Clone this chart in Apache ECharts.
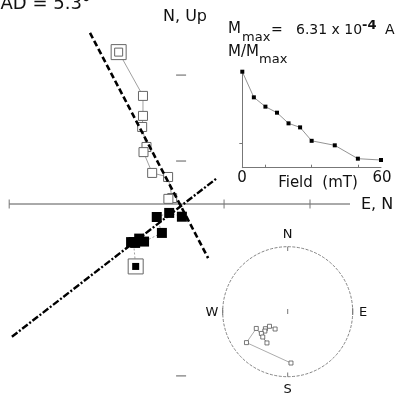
<!DOCTYPE html>
<html>
<head>
<meta charset="utf-8">
<script src="https://cdn.jsdelivr.net/npm/echarts@6/dist/echarts.min.js"></script>
<style>
  html, body { margin: 0; padding: 0; background: #fff; }
  #main { width: 398px; height: 399px; }
</style>
</head>
<body>
<div id="main"></div>
<script>
// demagnetisation steps (mT) and vector components (x 10^-4 A)
var steps = [0, 5, 10, 15, 20, 25, 30, 40, 50, 60];
var east = [-1.68, -1.76, -1.85, -1.70, -1.55, -1.37, -0.71, -0.90, -0.44, 0.03];
var north = [-2.31, -1.41, -1.41, -1.44, -1.28, -1.39, -1.07, -0.48, -0.33, -0.47];
var up = [5.62, 4.00, 3.26, 2.85, 2.11, 1.92, 1.15, 1.00, 0.22, 0.19];
var mNorm = [1, 0.733, 0.636, 0.573, 0.462, 0.42, 0.28, 0.233, 0.094, 0.08];

// PCA fit lines (end points)
var vertFit = [[-3.37, 6.33], [1.0, -2.0]];   // N vs Up
var horizFit = [[-6.26, -4.91], [1.32, 0.95]]; // E vs N

// main axis extent and tick marks
var axisEnds = [-6.36, 6.25];
var axisTicks = [-6.36, 1.59, 4.77];
var insetXTicks = [10, 30, 50];
var insetYTicks = [0.25];

var GREY = '#777';
var FONT = '"DejaVu Sans", sans-serif';

var horiz = east.map(function (e, i) { return [e, north[i]]; });
var vert = north.map(function (n, i) { return [n, up[i]]; });

// equal-area projection of each step direction
var stereo = east.map(function (e, i) {
  var n = north[i], h = Math.sqrt(e * e + n * n);
  var dec = Math.atan2(e, n);
  var inc = Math.atan2(Math.abs(up[i]), h);
  var r = Math.SQRT2 * Math.sin(Math.PI / 4 - inc / 2);
  return [r * Math.sin(dec), r * Math.cos(dec)];
});

var chart = echarts.init(document.getElementById('main'));

function hiddenAxis(idx, min, max) {
  return { gridIndex: idx, type: 'value', min: min, max: max, show: false };
}

function txt(text, x, y, size, align, va, weight) {
  return {
    type: 'text', z: 100,
    style: {
      text: text, x: x, y: y, fill: '#111',
      font: (weight || 'normal') + ' ' + size + 'px ' + FONT,
      textAlign: align || 'left', textVerticalAlign: va || 'middle'
    }
  };
}

chart.setOption({
  animation: false,
  backgroundColor: '#fff',
  grid: [
    { left: 0, top: 1.3, width: 397.3, height: 397.3 },
    { left: 242.3, top: 71.7, width: 138.7, height: 96 },
    { left: 222.7, top: 246.7, width: 130, height: 130 }
  ],
  xAxis: [
    hiddenAxis(0, -6.7, 8.0),
    {
      gridIndex: 1, type: 'value', min: 0, max: 60,
      splitLine: { show: false },
      axisLabel: { show: false },
      axisLine: { lineStyle: { color: GREY, width: 1 } },
      axisTick: { inside: true, length: 3, customValues: insetXTicks, lineStyle: { color: GREY } }
    },
    hiddenAxis(2, -1, 1)
  ],
  yAxis: [
    hiddenAxis(0, -7.2, 7.5),
    {
      gridIndex: 1, type: 'value', min: 0, max: 1,
      splitLine: { show: false },
      axisLabel: { show: false },
      axisLine: { lineStyle: { color: GREY, width: 1 } },
      axisTick: { inside: false, length: 3, customValues: insetYTicks, lineStyle: { color: GREY } }
    },
    hiddenAxis(2, -1, 1)
  ],
  graphic: [
    txt('MAD = 5.3°', -15, 13, 18, 'left', 'bottom'),
    txt('N, Up', 163, 17, 16),
    txt('E, N', 361, 205, 16),
    txt('M', 228, 37, 15, 'left', 'bottom'),
    txt('max', 242, 44, 13, 'left', 'bottom'),
    txt('=', 271, 37, 14, 'left', 'bottom'),
    txt('6.31 x 10', 296, 37, 14, 'left', 'bottom'),
    txt('-4', 362, 32, 13, 'left', 'bottom', 'bold'),
    txt('A', 385, 37, 14, 'left', 'bottom'),
    txt('M/M', 228, 60, 15, 'left', 'bottom'),
    txt('max', 259, 66, 13, 'left', 'bottom'),
    txt('0', 242, 178, 15, 'center'),
    txt('Field  (mT)', 318, 183, 15, 'center'),
    txt('60', 382, 178, 15, 'center'),
    txt('N', 287.7, 235, 13, 'center'),
    txt('S', 287.7, 390, 13, 'center'),
    txt('W', 212, 313, 13, 'center'),
    txt('E', 363, 313, 13, 'center'),
    {
      type: 'circle', z: 1,
      shape: { cx: 287.7, cy: 311.7, r: 65 },
      style: { fill: 'none', stroke: '#666', lineWidth: 0.8, lineDash: [3, 1.5] }
    },
    { type: 'line', z: 1, shape: { x1: 287.7, y1: 246.7, x2: 287.7, y2: 251 }, style: { stroke: GREY } },
    { type: 'line', z: 1, shape: { x1: 287.7, y1: 372.5, x2: 287.7, y2: 376.7 }, style: { stroke: GREY } },
    { type: 'line', z: 1, shape: { x1: 222.7, y1: 308, x2: 222.7, y2: 315 }, style: { stroke: GREY } },
    { type: 'line', z: 1, shape: { x1: 352.7, y1: 308, x2: 352.7, y2: 315 }, style: { stroke: GREY } },
    { type: 'line', z: 1, shape: { x1: 287.7, y1: 309, x2: 287.7, y2: 314 }, style: { stroke: GREY } }
  ],
  series: [
    // horizontal axis line and tick marks
    {
      type: 'line', xAxisIndex: 0, yAxisIndex: 0, symbol: 'none', silent: true, clip: false,
      data: axisEnds.map(function (x) { return [x, 0]; }),
      lineStyle: { color: '#555', width: 1 }, z: 1
    },
    {
      type: 'scatter', xAxisIndex: 0, yAxisIndex: 0, symbol: 'rect', symbolSize: [1, 9], clip: false,
      data: axisTicks.map(function (x) { return [x, 0]; }),
      itemStyle: { color: GREY, opacity: 1 }, z: 1
    },
    {
      type: 'scatter', xAxisIndex: 0, yAxisIndex: 0, symbol: 'rect', symbolSize: [10, 1.2], clip: false,
      data: axisTicks.map(function (y) { return [0, y]; }),
      itemStyle: { color: GREY, opacity: 1 }, z: 1
    },
    // connecting paths
    {
      type: 'line', xAxisIndex: 0, yAxisIndex: 0, symbol: 'none', clip: false,
      data: vert, lineStyle: { color: '#888', width: 0.8 }, z: 2
    },
    {
      type: 'line', xAxisIndex: 0, yAxisIndex: 0, symbol: 'none', clip: false,
      data: horiz, lineStyle: { color: '#888', width: 0.8, type: [2, 2] }, z: 2
    },
    // NRM outer frames
    {
      type: 'scatter', xAxisIndex: 0, yAxisIndex: 0, symbol: 'rect', symbolSize: 15, clip: false,
      data: [vert[0], horiz[0]],
      itemStyle: { color: '#fff', borderColor: '#666', borderWidth: 1, opacity: 1 }, z: 3
    },
    // vertical projection (open)
    {
      type: 'scatter', xAxisIndex: 0, yAxisIndex: 0, symbol: 'rect', clip: false,
      symbolSize: function (v, p) { return p.dataIndex === 0 ? 8 : 9; },
      data: vert,
      itemStyle: { color: '#fff', borderColor: '#666', borderWidth: 1, opacity: 1 }, z: 4
    },
    // horizontal projection (filled)
    {
      type: 'scatter', xAxisIndex: 0, yAxisIndex: 0, symbol: 'rect', clip: false,
      symbolSize: function (v, p) { return p.dataIndex === 0 ? 7 : 10; },
      data: horiz,
      itemStyle: { color: '#000', opacity: 1 }, z: 4
    },
    // fit lines
    {
      type: 'line', xAxisIndex: 0, yAxisIndex: 0, symbol: 'none', clip: false,
      data: vertFit, lineStyle: { color: '#000', width: 2.6, type: [6, 3] }, z: 6
    },
    {
      type: 'line', xAxisIndex: 0, yAxisIndex: 0, symbol: 'none', clip: false,
      data: horizFit, lineStyle: { color: '#000', width: 2.4, type: [7, 2, 2, 2] }, z: 6
    },
    // intensity decay inset
    {
      type: 'line', xAxisIndex: 1, yAxisIndex: 1, clip: false,
      data: steps.map(function (s, i) { return [s, mNorm[i]]; }),
      symbol: 'rect', symbolSize: 4,
      itemStyle: { color: '#000' },
      lineStyle: { color: '#777', width: 0.8 }, z: 5
    },
    // equal-area stereonet
    {
      type: 'line', xAxisIndex: 2, yAxisIndex: 2, clip: false,
      data: stereo, symbol: 'rect', symbolSize: 4,
      itemStyle: { color: '#fff', borderColor: '#555', borderWidth: 0.8 },
      lineStyle: { color: '#888', width: 0.7 }, z: 5
    }
  ]
});
</script>
</body>
</html>
